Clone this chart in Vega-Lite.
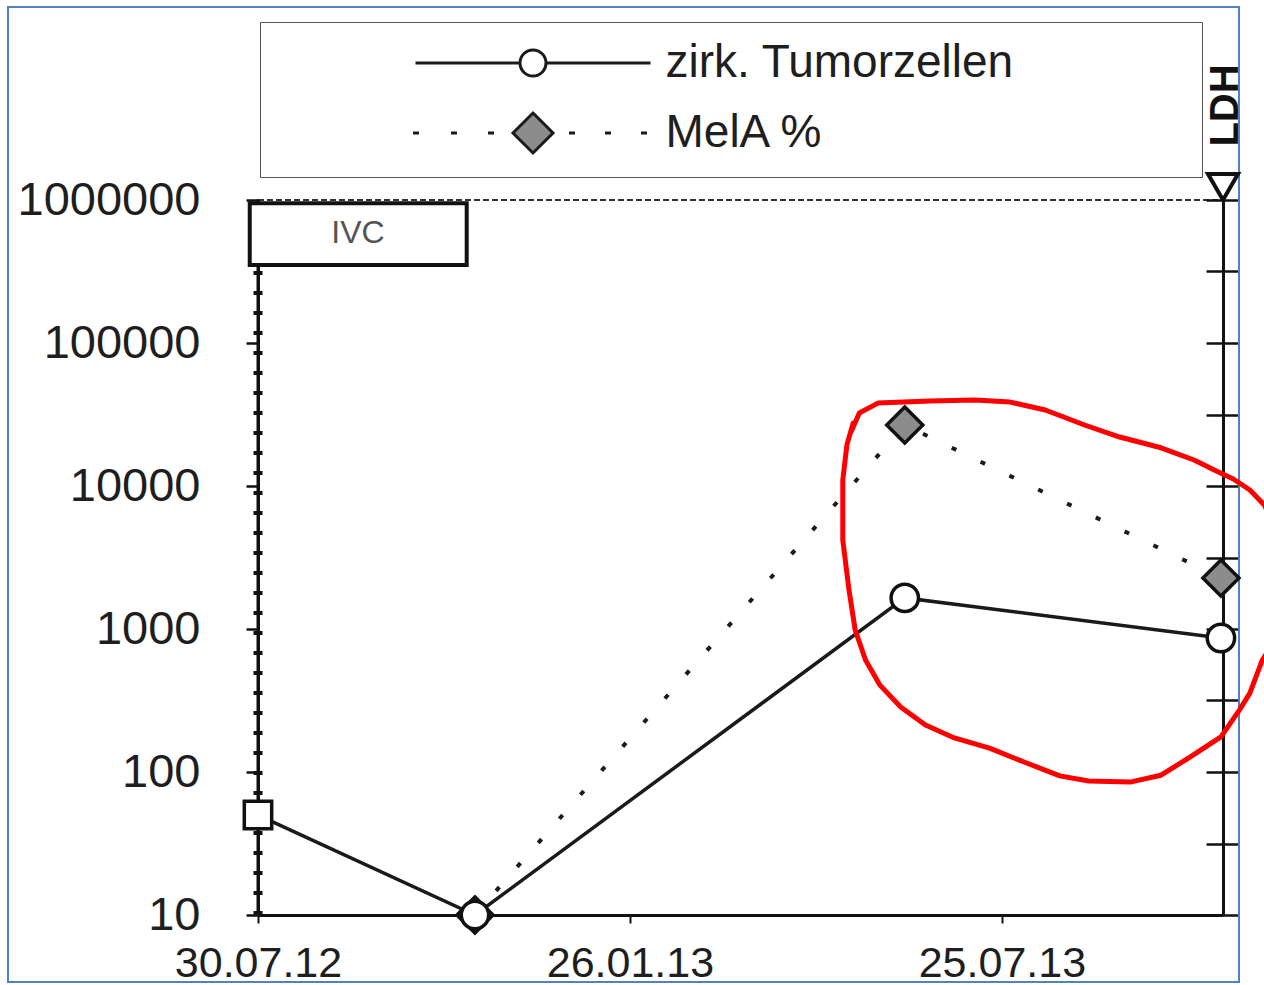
{
  "$schema": "https://vega.github.io/schema/vega-lite/v6.json",
  "width": 965,
  "height": 715,
  "autosize": "none",
  "padding": {"left": 258, "top": 200, "right": 41, "bottom": 70},
  "background": "white",
  "config": {
    "view": {"stroke": "#333", "strokeWidth": 2, "strokeDash": [6, 3]},
    "font": "Liberation Sans"
  },
  "datasets": {
    "series": [
      {"series": "zirk. Tumorzellen", "date": "2012-07-30", "value": 50},
      {"series": "zirk. Tumorzellen", "date": "2012-11-12", "value": 10},
      {"series": "zirk. Tumorzellen", "date": "2013-06-08", "value": 1650},
      {"series": "zirk. Tumorzellen", "date": "2013-11-08", "value": 865},
      {"series": "MelA %", "date": "2012-11-12", "value": 10},
      {"series": "MelA %", "date": "2013-06-08", "value": 26700},
      {"series": "MelA %", "date": "2013-11-08", "value": 2275}
    ],
    "events": [
      {"event": "IVC", "date": "2012-07-30"}
    ],
    "annotation": [
      {"n": 1, "date": "2013-05-13", "value": 23900},
      {"n": 2, "date": "2013-05-17", "value": 32400},
      {"n": 3, "date": "2013-05-26", "value": 38000},
      {"n": 4, "date": "2013-06-20", "value": 39300},
      {"n": 5, "date": "2013-07-12", "value": 39900},
      {"n": 6, "date": "2013-07-29", "value": 38600},
      {"n": 7, "date": "2013-08-15", "value": 34000},
      {"n": 8, "date": "2013-09-03", "value": 26700},
      {"n": 9, "date": "2013-09-20", "value": 22000},
      {"n": 10, "date": "2013-10-10", "value": 18500},
      {"n": 11, "date": "2013-10-26", "value": 15200},
      {"n": 12, "date": "2013-11-05", "value": 12900},
      {"n": 13, "date": "2013-11-14", "value": 11200},
      {"n": 14, "date": "2013-11-22", "value": 9380},
      {"n": 15, "date": "2013-11-29", "value": 7360},
      {"n": 16, "date": "2013-12-07", "value": 4190},
      {"n": 17, "date": "2013-12-11", "value": 1875},
      {"n": 18, "date": "2013-12-06", "value": 908},
      {"n": 19, "date": "2013-11-28", "value": 607},
      {"n": 20, "date": "2013-11-22", "value": 356},
      {"n": 21, "date": "2013-11-17", "value": 272},
      {"n": 22, "date": "2013-11-08", "value": 176},
      {"n": 23, "date": "2013-10-24", "value": 127},
      {"n": 24, "date": "2013-10-10", "value": 95},
      {"n": 25, "date": "2013-09-25", "value": 85},
      {"n": 26, "date": "2013-09-05", "value": 86.5},
      {"n": 27, "date": "2013-08-22", "value": 94},
      {"n": 28, "date": "2013-08-05", "value": 117},
      {"n": 29, "date": "2013-07-19", "value": 147},
      {"n": 30, "date": "2013-07-02", "value": 173},
      {"n": 31, "date": "2013-06-18", "value": 213},
      {"n": 32, "date": "2013-06-06", "value": 285},
      {"n": 33, "date": "2013-05-27", "value": 405},
      {"n": 34, "date": "2013-05-20", "value": 607},
      {"n": 35, "date": "2013-05-15", "value": 984},
      {"n": 36, "date": "2013-05-12", "value": 1875},
      {"n": 37, "date": "2013-05-09", "value": 4190},
      {"n": 38, "date": "2013-05-09", "value": 11000},
      {"n": 39, "date": "2013-05-11", "value": 19400},
      {"n": 40, "date": "2013-05-14", "value": 27500}
    ]
  },
  "layer": [
    {
      "layer": [
        {
          "data": {"name": "series"},
          "transform": [{"filter": "datum.series === 'zirk. Tumorzellen'"}],
          "mark": {"type": "line", "stroke": "#1a1a1a", "strokeWidth": 3.5},
          "encoding": {
            "x": {
              "field": "date", "type": "temporal", "title": null,
              "scale": {"type": "utc", "domain": [{"year": 2012, "month": 7, "date": 30, "utc": true}, {"year": 2013, "month": 11, "date": 9, "utc": true}]},
              "axis": {
                "title": null,
                "values": [{"year": 2012, "month": 7, "date": 30, "utc": true}, {"year": 2013, "month": 1, "date": 26, "utc": true}, {"year": 2013, "month": 7, "date": 25, "utc": true}],
                "labelExpr": "utcFormat(datum.value, '%d.%m.%y')",
                "grid": false, "tickSize": 8, "tickWidth": 2, "tickColor": "#111",
                "domainColor": "#111", "domainWidth": 3,
                "labelFontSize": 43, "labelFont": "Liberation Sans", "labelColor": "#1e1e1e",
                "labelPadding": 19, "labelOverlap": false, "labelFlush": false
              }
            },
            "y": {
              "field": "value", "type": "quantitative", "title": null,
              "scale": {"type": "log", "domain": [10, 1000000]},
              "axis": {
                "title": null,
                "values": [10, 100, 1000, 10000, 100000, 1000000],
                "format": "d", "grid": false,
                "tickSize": 12, "tickWidth": 2.5, "tickColor": "#111",
                "domainColor": "#111", "domainWidth": 3,
                "labelFontSize": 47, "labelFont": "Liberation Sans", "labelColor": "#1e1e1e",
                "labelPadding": 46, "labelLimit": 400
              }
            }
          }
        },
        {
          "data": {"name": "series"},
          "transform": [{"filter": "datum.series === 'MelA %'"}],
          "mark": {"type": "line", "stroke": "#1a1a1a", "strokeWidth": 4, "strokeDash": [5, 27]},
          "encoding": {
            "x": {"field": "date", "type": "temporal", "title": null},
            "y": {"field": "value", "type": "quantitative", "title": null}
          }
        },
        {
          "data": {"name": "series"},
          "mark": {"type": "point", "size": 0, "filled": true, "strokeWidth": 3, "opacity": 1},
          "encoding": {
            "x": {"field": "date", "type": "temporal", "title": null},
            "y": {"field": "value", "type": "quantitative", "title": null},
            "shape": {
              "field": "series", "type": "nominal",
              "scale": {"domain": ["zirk. Tumorzellen", "MelA %"], "range": [
                "M-51,0M-23.5,0L-2.6,0M2.6,0L23.5,0M2.6,0A2.6,2.6,0,1,1,-2.6,0A2.6,2.6,0,1,1,2.6,0Z M129,0",
                "M-51,0M-24,0L-22.8,0M-16.4,0L-15.2,0M-9,0L-7.8,0M7.2,0L8.4,0M14.4,0L15.6,0M21.6,0L22.8,0M0,-4L4,0L0,4L-4,0Z M129,0"
              ]},
              "legend": {
                "title": null, "orient": "none", "legendX": 2, "legendY": -178,
                "padding": 18, "rowPadding": 21,
                "labelFontSize": 46, "labelFont": "Liberation Sans", "labelColor": "#1e1e1e", "labelLimit": 900,
                "symbolSize": 100, "symbolOffset": 232, "labelOffset": 109.5,
                "symbolStrokeWidth": 3, "symbolOpacity": 1,
                "strokeColor": "#555"
              }
            },
            "fill": {
              "field": "series", "type": "nominal",
              "scale": {"domain": ["zirk. Tumorzellen", "MelA %"], "range": ["#ffffff", "#8c8c8c"]},
              "legend": {
                "title": null, "orient": "none", "legendX": 2, "legendY": -178,
                "padding": 18, "rowPadding": 21,
                "labelFontSize": 46, "labelFont": "Liberation Sans", "labelColor": "#1e1e1e", "labelLimit": 900,
                "symbolSize": 100, "symbolOffset": 232, "labelOffset": 109.5,
                "symbolStrokeWidth": 3, "symbolOpacity": 1,
                "strokeColor": "#555"
              }
            },
            "stroke": {
              "field": "series", "type": "nominal",
              "scale": {"domain": ["zirk. Tumorzellen", "MelA %"], "range": ["#1a1a1a", "#1a1a1a"]},
              "legend": {
                "title": null, "orient": "none", "legendX": 2, "legendY": -178,
                "padding": 18, "rowPadding": 21,
                "labelFontSize": 46, "labelFont": "Liberation Sans", "labelColor": "#1e1e1e", "labelLimit": 900,
                "symbolSize": 100, "symbolOffset": 232, "labelOffset": 109.5,
                "symbolStrokeWidth": 3, "symbolOpacity": 1,
                "strokeColor": "#555"
              }
            }
          }
        },
        {
          "data": {"name": "events"},
          "mark": {"type": "rect", "filled": false, "fill": null, "stroke": "#4f81c5", "strokeWidth": 2, "clip": false},
          "encoding": {
            "x": {"datum": {"year": 2012, "month": 3, "date": 31, "utc": true}, "type": "temporal", "title": null},
            "x2": {"datum": {"year": 2013, "month": 11, "date": 16, "hours": 18, "utc": true}},
            "y": {"datum": 22370000, "type": "quantitative", "title": null},
            "y2": {"datum": 3.4}
          }
        },
        {
          "data": {"name": "events"},
          "mark": {"type": "rule", "stroke": "#111", "strokeWidth": 3},
          "encoding": {
            "x": {"field": "date", "type": "temporal", "title": null},
            "y": {"datum": 10, "type": "quantitative", "title": null},
            "y2": {"datum": 1000000}
          }
        },
        {
          "data": {"name": "events"},
          "mark": {"type": "rule", "stroke": "#111", "strokeWidth": 9, "strokeDash": [4, 16]},
          "encoding": {
            "x": {"field": "date", "type": "temporal", "title": null},
            "y": {"datum": 10, "type": "quantitative", "title": null},
            "y2": {"datum": 1000000}
          }
        },
        {
          "data": {"name": "events"},
          "mark": {"type": "rect", "fill": "white", "stroke": "#111", "strokeWidth": 4},
          "encoding": {
            "x": {"datum": {"year": 2012, "month": 7, "date": 26, "utc": true}, "type": "temporal", "title": null},
            "x2": {"datum": {"year": 2012, "month": 11, "date": 8, "utc": true}},
            "y": {"datum": 950000, "type": "quantitative", "title": null},
            "y2": {"datum": 351000}
          }
        },
        {
          "data": {"name": "events"},
          "mark": {"type": "text", "fontSize": 32, "font": "Liberation Sans", "color": "#555", "align": "center", "baseline": "middle", "dx": 100},
          "encoding": {
            "x": {"field": "date", "type": "temporal", "title": null},
            "y": {"datum": 587000, "type": "quantitative", "title": null},
            "text": {"field": "event"}
          }
        },
        {
          "data": {"name": "series"},
          "transform": [{"filter": "datum.series === 'MelA %'"}],
          "mark": {"type": "point", "shape": "diamond", "size": 1300, "filled": true, "fill": "#8c8c8c", "stroke": "#111", "strokeWidth": 3.5, "opacity": 1},
          "encoding": {
            "x": {"field": "date", "type": "temporal", "title": null},
            "y": {"field": "value", "type": "quantitative", "title": null}
          }
        },
        {
          "data": {"name": "series"},
          "transform": [{"filter": "datum.series === 'zirk. Tumorzellen'"}],
          "mark": {"type": "point", "size": 750, "filled": true, "fill": "white", "stroke": "#111", "strokeWidth": 3.5, "opacity": 1},
          "encoding": {
            "x": {"field": "date", "type": "temporal", "title": null},
            "y": {"field": "value", "type": "quantitative", "title": null},
            "shape": {"condition": {"test": "utcyear(datum.date) == 2012 && utcmonth(datum.date) == 6", "value": "square"}, "value": "circle"}
          }
        },
        {
          "data": {"name": "annotation"},
          "mark": {"type": "line", "stroke": "#ff0000", "strokeWidth": 5, "strokeJoin": "round", "strokeCap": "round", "clip": false},
          "encoding": {
            "x": {"field": "date", "type": "temporal", "title": null},
            "y": {"field": "value", "type": "quantitative", "title": null},
            "order": {"field": "n", "type": "quantitative"}
          }
        }
      ]
    },
    {
      "data": {"values": [{"axis": "LDH"}]},
      "mark": {"type": "point", "shape": "triangle-down", "size": 900, "filled": true, "fill": "white", "stroke": "#111", "strokeWidth": 4, "yOffset": -13, "opacity": 1},
      "encoding": {
        "x": {"datum": {"year": 2013, "month": 11, "date": 9, "utc": true}, "type": "temporal", "title": null},
        "y": {
          "datum": 10, "type": "quantitative",
          "scale": {"domain": [0, 10]},
          "axis": {
            "orient": "right",
            "values": [0, 1, 2, 3, 4, 5, 6, 7, 8, 9, 10],
            "labels": false, "grid": false,
            "tickSize": 16, "tickWidth": 2.5, "tickColor": "#111",
            "domainColor": "#111", "domainWidth": 3,
            "title": "LDH", "titleAngle": -90, "titleX": 2, "titleY": -95,
            "titleAlign": "center", "titleBaseline": "middle",
            "titleFontSize": 40, "titleFont": "Liberation Sans", "titleFontWeight": "bold", "titleColor": "#111"
          }
        }
      }
    },
    {
      "data": {"values": [{"axis": "LDH"}]},
      "mark": {"type": "point", "opacity": 0},
      "encoding": {
        "x": {"datum": {"year": 2013, "month": 11, "date": 9, "utc": true}, "type": "temporal", "title": null},
        "y": {
          "datum": 10, "type": "quantitative",
          "scale": {"domain": [0, 10]},
          "axis": {
            "orient": "right",
            "values": [0, 1, 2, 3, 4, 5, 6, 7, 8, 9, 10],
            "labels": false, "grid": false, "domain": false,
            "tickSize": -17, "tickWidth": 2.5, "tickColor": "#111",
            "title": null
          }
        }
      }
    }
  ],
  "resolve": {"scale": {"y": "independent"}}
}
